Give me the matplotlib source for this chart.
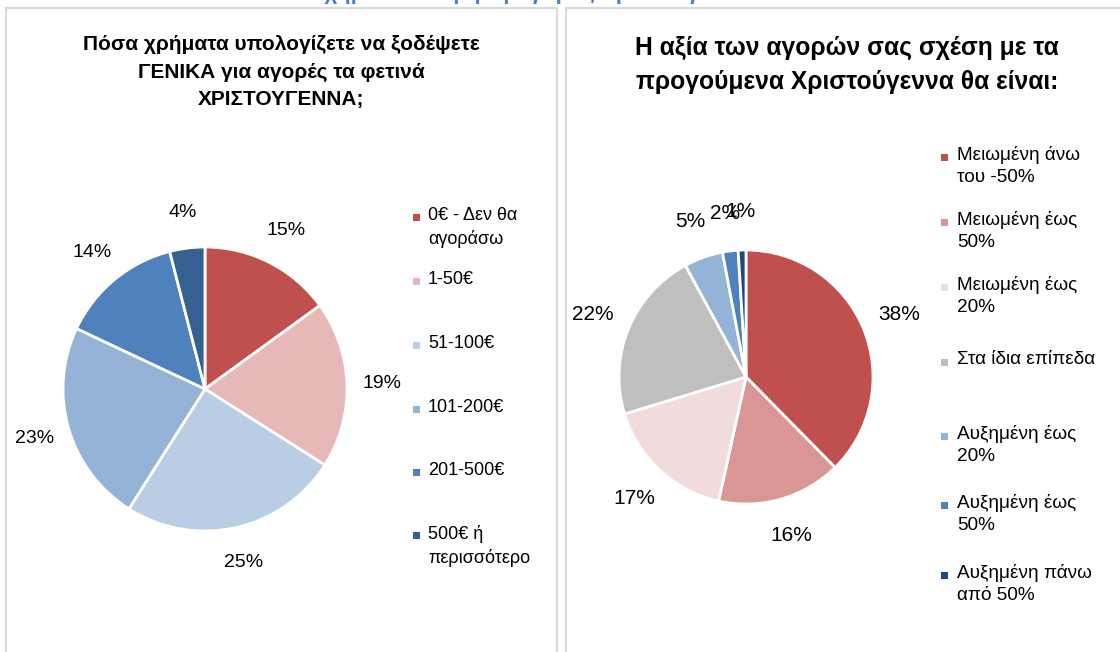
import matplotlib
matplotlib.use("Agg")
import matplotlib.pyplot as plt
from matplotlib.patches import Rectangle

# Data
spend_labels = ["0€ - Δεν θα\nαγοράσω", "1-50€", "51-100€", "101-200€", "201-500€", "500€ ή\nπερισσότερο"]
spend_values = [15, 19, 25, 23, 14, 4]
spend_colors = ["#C0504D", "#E6B9B8", "#B9CDE5", "#95B3D7", "#4F81BD", "#376092"]

change_labels = ["Μειωμένη άνω\nτου -50%", "Μειωμένη έως\n50%", "Μειωμένη έως\n20%", "Στα ίδια επίπεδα",
                 "Αυξημένη έως\n20%", "Αυξημένη έως\n50%", "Αυξημένη πάνω\nαπό 50%"]
change_values = [38, 16, 17, 22, 5, 2, 1]
change_colors = ["#C0504D", "#D99694", "#F2DCDB", "#BFBFBF", "#95B3D7", "#4F81BD", "#1F497D"]

W, H = 1120, 652
fig = plt.figure(figsize=(W / 100, H / 100), dpi=100)
regular = ["Liberation Sans", "DejaVu Sans"]


def fx(x):
    return x / W


def fy(y):
    return 1 - y / H


# panel borders
for x0, x1 in [(6, 557), (566, 1130)]:
    fig.patches.append(Rectangle((fx(x0), fy(700)), fx(x1 - x0), (700 - 8) / H,
                                 transform=fig.transFigure, fill=False,
                                 edgecolor="#D9D9D9", linewidth=1.5))

# heading, cut off by the top edge as in the reference
fig.text(fx(566), fy(-6), "Σχήμα 1: Εκτίμηση Αγοράς Χριστουγέννων 2022", ha="center", va="center",
         fontsize=16, fontweight="bold", color="#4F81BD", family=regular)


def draw_pie(cx, cy, r, values, colors, pctdist, fs):
    ax = fig.add_axes([fx(cx - r), fy(cy + r), fx(2 * r), 2 * r / H])
    wedges, texts = ax.pie(values, colors=colors, startangle=90, counterclock=False,
                           labels=[f"{v}%" for v in values], labeldistance=pctdist,
                           wedgeprops=dict(edgecolor="white", linewidth=2),
                           textprops=dict(fontsize=fs, family=regular, color="#000000"))
    for t in texts:
        t.set_ha("center")
        t.set_va("center")
    ax.set_xlim(-1, 1)
    ax.set_ylim(-1, 1)
    ax.set_aspect("equal")
    return ax


draw_pie(205, 389, 142, spend_values, spend_colors, 1.25, 14)
draw_pie(746, 377, 127, change_values, change_colors, 1.3, 15)

# titles
fig.text(fx(281), fy(72), "Πόσα χρήματα υπολογίζετε να ξοδέψετε\nΓΕΝΙΚΑ για αγορές τα φετινά\nΧΡΙΣΤΟΥΓΕΝΝΑ;",
         ha="center", va="center", fontsize=15, fontweight="bold", family=regular, linespacing=1.55)
fig.text(fx(847), fy(65), "Η αξία των αγορών σας σχέση με τα\nπρογούμενα Χριστούγεννα θα είναι:",
         ha="center", va="center", fontsize=17.7, fontweight="bold", family=regular, linespacing=1.5)

# legends
left_y = [217, 281, 345, 409, 472, 535]
for lab, col, y in zip(spend_labels, spend_colors, left_y):
    fig.patches.append(Rectangle((fx(413), fy(y + 4)), fx(7), 7 / H, transform=fig.transFigure,
                                 facecolor=col, edgecolor="none"))
    fig.text(fx(428), fy(y - 10), lab, ha="left", va="top", fontsize=13, family=regular, linespacing=1.45)

right_y = [157, 222, 287, 362, 436, 505, 575]
for lab, col, y in zip(change_labels, change_colors, right_y):
    fig.patches.append(Rectangle((fx(941), fy(y + 4)), fx(7), 7 / H, transform=fig.transFigure,
                                 facecolor=col, edgecolor="none"))
    fig.text(fx(957), fy(y - 11), lab, ha="left", va="top", fontsize=13.7, family=regular, linespacing=1.4)

fig.savefig("out.png", dpi=100)
